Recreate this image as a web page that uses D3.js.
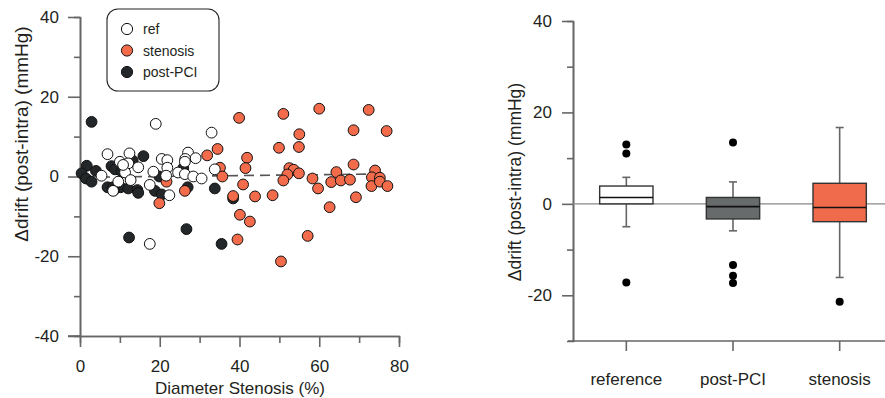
<!DOCTYPE html>
<html>
<head>
<meta charset="utf-8">
<script src="https://cdn.jsdelivr.net/npm/d3@7"></script>
<style>
  body { margin: 0; background: #fff; }
  svg text { font-family: "Liberation Sans", Arial, sans-serif; fill: #231f20; }
</style>
</head>
<body>
<svg id="chart" width="885" height="398"></svg>
<script>
// scatter data, [diameter stenosis %, drift difference mmHg]
const postPCI = [[2.9,13.7],[1.7,2.7],[0.4,0.8],[1.5,-0.5],[2.9,-1.3],[4,1.4],[6.9,-2.7],[8.3,-2.7],
  [7.9,2.6],[8.8,1.8],[10.2,-2.7],[12.1,-3],[13.2,4],[15.9,5.1],[14.4,-3.4],[14.6,-4.1],[18.8,-3.6],
  [20.5,-4.5],[19.9,0],[25.9,2.1],[27,-2.7],[33.8,-3],[38.4,-5.5],[12.3,-15.3],[26.7,-13.2],[35.5,-16.9],
  [8.5,-3.4],[10.5,1.2]];
const ref = [[19,13.2],[33,11],[6.9,5.6],[10,3.7],[12.4,5.8],[12.1,3.3],[14.6,2.3],[11.3,1],[9.6,-1.3],
  [12.7,-0.9],[5.4,0.2],[20.5,4.4],[21.9,4.1],[21.9,2.2],[18.4,1.2],[21.6,0.2],[27.1,6],[26.4,4.4],
  [29,4.6],[26.3,3.7],[24.6,1],[26.3,0.6],[28.4,0],[30.5,-0.5],[33.8,1.8],[17.5,-2.1],[22.4,-4.7],
  [8.3,-3.6],[17.5,-16.9],[10.8,2.9]];
const stenosis = [[39.9,14.7],[51,15.7],[60,17],[72.4,16.7],[55,10.6],[68.6,11.6],[76.9,11.4],[31.9,5.3],
  [34.5,6.9],[49.9,7.2],[54.9,7.4],[41.9,4.7],[41.5,2.1],[35.1,2.2],[35.7,0],[52.5,2.1],[53.6,1.7],
  [54.9,0.8],[52,0.5],[51,-1],[58.3,-0.5],[59.7,-3],[63,-1.4],[64.3,1.1],[65.4,-1],[67.7,-0.8],[68.6,3],
  [69.2,-5.2],[62.6,-7.7],[74,1.5],[73.2,-0.2],[75.2,-0.3],[73.1,-2.4],[75.2,-1.3],[77.1,-2.4],[40.9,-2],
  [38.4,-4.9],[43.9,-5],[48.3,-4.7],[40.1,-9.6],[42.6,-11.3],[39.5,-15.8],[57.1,-14.9],[50.4,-21.3],
  [21.7,-1.3],[26.3,-3.6],[19.9,-6.7]];
// dashed fit line end points
const fitX = [1, 77];
const fitY = [-0.2, 0.65];

// box plot summary
const groups = ["reference", "post-PCI", "stenosis"];
const boxFill = ["#ffffff", "#686b6b", "#f06b4b"];
const q1 = [0, -3.3, -3.9];
const median = [1.4, -0.6, -0.8];
const q3 = [3.9, 1.4, 4.5];
const whiskLow = [-5, -5.9, -16.1];
const whiskHigh = [5.8, 4.8, 16.7];
const outliers = [[13, 11, -17.2], [13.4, -13.4, -15.7, -17.3], [-21.4]];

const svg = d3.select("#chart");
const axisColor = "#666";
const plainNum = d => String(d);   // hyphen minus like the original

// ---------- left panel ----------
const x = d3.scaleLinear().domain([0, 80]).range([80, 399]);
const y = d3.scaleLinear().domain([-40, 40]).range([336, 17]);

function styleAxis(g) {
  g.select(".domain").attr("stroke", axisColor).attr("stroke-width", 1.6);
  g.selectAll(".tick line").attr("stroke", axisColor).attr("stroke-width", 1.6);
  g.selectAll("text").style("font-size", "17px").attr("fill", "#231f20");
}

svg.append("g").attr("transform", "translate(80,0)")
  .call(d3.axisLeft(y).tickValues([-30, -10, 10, 30]).tickSize(6).tickFormat(""))
  .call(styleAxis);
svg.append("g").attr("transform", "translate(80,0)")
  .call(d3.axisLeft(y).tickValues([-40, -20, 0, 20, 40]).tickSize(12).tickSizeOuter(0).tickPadding(9).tickFormat(plainNum))
  .call(styleAxis);
svg.append("g").attr("transform", "translate(0,336)")
  .call(d3.axisBottom(x).tickValues([10, 30, 50, 70]).tickSize(7).tickFormat(""))
  .call(styleAxis);
svg.append("g").attr("transform", "translate(0,336)")
  .call(d3.axisBottom(x).tickValues([0, 20, 40, 60, 80]).tickSize(11).tickSizeOuter(0).tickPadding(13).tickFormat(plainNum))
  .call(styleAxis);
svg.append("line").attr("x1", 68).attr("x2", 80).attr("y1", 336).attr("y2", 336)
  .attr("stroke", axisColor).attr("stroke-width", 1.6);

svg.append("text").attr("x", 240).attr("y", 394).attr("text-anchor", "middle")
  .style("font-size", "17px").text("Diameter Stenosis (%)");
svg.append("text").attr("transform", "translate(28,134) rotate(-90)").attr("text-anchor", "middle")
  .style("font-size", "19px").text("Δdrift (post-intra) (mmHg)");

svg.append("line")
  .attr("x1", x(fitX[0])).attr("x2", x(fitX[1]))
  .attr("y1", y(fitY[0])).attr("y2", y(fitY[1]))
  .attr("stroke", "#555").attr("stroke-width", 1.6).attr("stroke-dasharray", "10,6");

function drawPoints(data, fill) {
  svg.append("g").selectAll("circle").data(data).join("circle")
    .attr("cx", d => x(d[0])).attr("cy", d => y(d[1])).attr("r", 5.4)
    .attr("fill", fill).attr("stroke", "#111").attr("stroke-width", 1);
}
drawPoints(postPCI, "#24272a");
drawPoints(stenosis, "#f26b4b");
drawPoints(ref, "#ffffff");

// legend
const legend = svg.append("g");
legend.append("rect").attr("x", 107).attr("y", 9).attr("width", 112).attr("height", 82).attr("rx", 11)
  .attr("fill", "#fff").attr("stroke", "#222").attr("stroke-width", 1.1);
const legItems = [["ref", "#ffffff"], ["stenosis", "#f26b4b"], ["post-PCI", "#24272a"]];
legItems.forEach((d, i) => {
  legend.append("circle").attr("cx", 127).attr("cy", 29 + i * 21.5).attr("r", 5.6)
    .attr("fill", d[1]).attr("stroke", "#111").attr("stroke-width", 1);
  legend.append("text").attr("x", 143).attr("y", 34 + i * 21.5).style("font-size", "14px").text(d[0]);
});

// ---------- right panel ----------
const xb = d3.scaleBand().domain(groups).range([573, 893]);
const yb = d3.scaleLinear().domain([-30, 40]).range([341, 21]);

svg.append("g").attr("transform", "translate(573,0)")
  .call(d3.axisLeft(yb).tickValues([-10, 10, 30]).tickSize(6).tickFormat(""))
  .call(styleAxis);
svg.append("g").attr("transform", "translate(573,0)")
  .call(d3.axisLeft(yb).tickValues([-20, 0, 20, 40]).tickSize(11).tickSizeOuter(0).tickPadding(10).tickFormat(plainNum))
  .call(styleAxis);
const xAxisR = svg.append("g").attr("transform", "translate(0,341)")
  .call(d3.axisBottom(xb).tickSize(10).tickSizeOuter(0).tickPadding(22))
  .call(styleAxis);
xAxisR.select(".domain").remove();
svg.append("line").attr("x1", 568).attr("x2", 885).attr("y1", 341).attr("y2", 341)
  .attr("stroke", axisColor).attr("stroke-width", 1.6);
svg.append("line").attr("x1", 573).attr("x2", 885).attr("y1", yb(0)).attr("y2", yb(0))
  .attr("stroke", "#888").attr("stroke-width", 1.2);

svg.append("text").attr("transform", "translate(521,182) rotate(-90)").attr("text-anchor", "middle")
  .style("font-size", "17.5px").text("Δdrift (post-intra) (mmHg)");

const bw = xb.bandwidth() * 0.5;
groups.forEach((g, i) => {
  const cx = xb(g) + xb.bandwidth() / 2;
  const box = svg.append("g");
  box.append("line").attr("x1", cx).attr("x2", cx).attr("y1", yb(whiskHigh[i])).attr("y2", yb(whiskLow[i]))
    .attr("stroke", axisColor).attr("stroke-width", 1.6);
  [whiskHigh[i], whiskLow[i]].forEach(v => {
    box.append("line").attr("x1", cx - 4).attr("x2", cx + 4).attr("y1", yb(v)).attr("y2", yb(v))
      .attr("stroke", axisColor).attr("stroke-width", 1.6);
  });
  box.append("rect").attr("x", cx - bw / 2).attr("width", bw)
    .attr("y", yb(q3[i])).attr("height", yb(q1[i]) - yb(q3[i]))
    .attr("fill", boxFill[i]).attr("stroke", "#333").attr("stroke-width", 1.4);
  box.append("line").attr("x1", cx - bw / 2).attr("x2", cx + bw / 2)
    .attr("y1", yb(median[i])).attr("y2", yb(median[i]))
    .attr("stroke", "#111").attr("stroke-width", 1.6);
  box.selectAll("circle.out").data(outliers[i]).join("circle")
    .attr("cx", cx).attr("cy", d => yb(d)).attr("r", 4).attr("fill", "#000");
});
</script>
</body>
</html>
